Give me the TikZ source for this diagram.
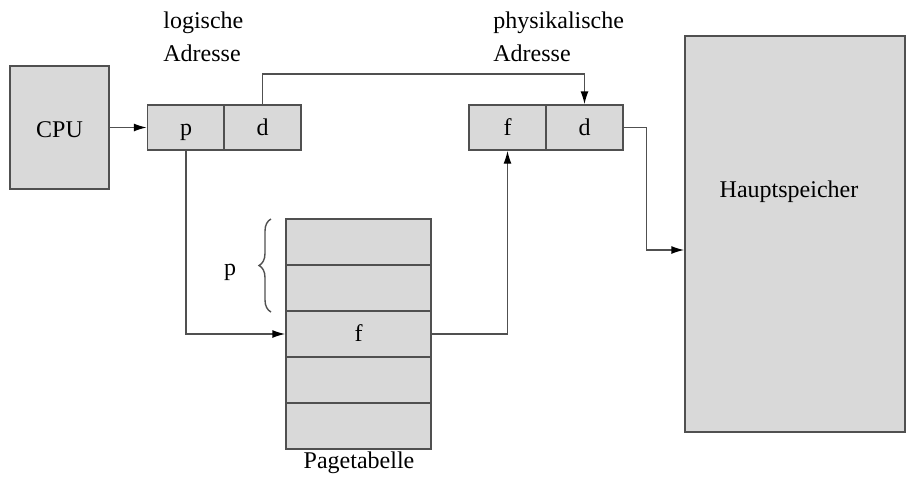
\documentclass[tikz,border=0pt]{standalone}
\usepackage{fontspec}
\setmainfont{Liberation Serif}
\usetikzlibrary{arrows.meta,decorations.pathreplacing}
\definecolor{boxfill}{RGB}{217,217,217}
\definecolor{edge}{RGB}{80,80,80}
\begin{document}
\begin{tikzpicture}[x=0.5pt,y=-0.5pt,
  font=\fontsize{12}{14}\selectfont,
  box/.style={draw=edge,fill=boxfill,line width=0.7pt,inner sep=0pt},
  cell/.style={box,minimum width=38.5pt,minimum height=22.5pt,text height=9.5pt,text depth=2pt},
  row/.style={box,minimum width=72.5pt,minimum height=23pt,text height=9.5pt,text depth=2pt},
  conn/.style={draw=edge,line width=0.7pt},
  arr/.style={conn,-{Latex[length=6.5pt,width=4pt,black]}},
  lbl/.style={inner sep=0pt,anchor=base west},
]
\useasboundingbox (0,0) rectangle (906,483);

% CPU
\node[box,minimum width=49.5pt,minimum height=61.5pt,text height=9.5pt,text depth=0pt] (cpu) at (59.5,127.5) {CPU};

% logical address p | d
\node[cell] (lp) at (186,127.5) {p};
\node[cell] (ld) at (262.5,127.5) {d};
\node[lbl] (lt1) at (163,28) {logische};
\node[lbl] (lt2) at (163,61) {Adresse};

% physical address f | d
\node[cell] (pf) at (507.5,127.5) {f};
\node[cell] (pd) at (584.5,127.5) {d};
\node[lbl] (pt1) at (493,28) {physikalische};
\node[lbl] (pt2) at (493,61) {Adresse};

% page table
\node[row] (r1) at (358.5,242) {};
\node[row] (r2) at (358.5,288) {};
\node[row] (r3) at (358.5,334) {f};
\node[row] (r4) at (358.5,380) {};
\node[row] (r5) at (358.5,426) {};
\node[inner sep=0pt,anchor=base] (ptab) at (359,468) {Pagetabelle};

% brace marking the page index
\draw[conn,decorate,decoration={brace,amplitude=6pt}] (271,312) -- (271,219);
\node[inner sep=0pt,anchor=base] (plbl) at (230,275) {p};

% main memory
\node[box,minimum width=110pt,minimum height=198pt] (mem) at (795,234) {};
\node[inner sep=0pt,anchor=base] (memlbl) at (789,197) {Hauptspeicher};

% connectors
\coordinate (top) at (0,74);
\coordinate (memin) at (0,250);
\draw[arr] (cpu.east) -- (lp.west);
\draw[arr] (ld.north) -- (ld.north |- top) -| (pd.north);
\draw[arr] (lp.south) |- (r3.west);
\draw[arr] (r3.east) -| (pf.south);
\draw[arr] (pd.east) -- ++(23,0) |- (mem.west |- memin);
\end{tikzpicture}
\end{document}
